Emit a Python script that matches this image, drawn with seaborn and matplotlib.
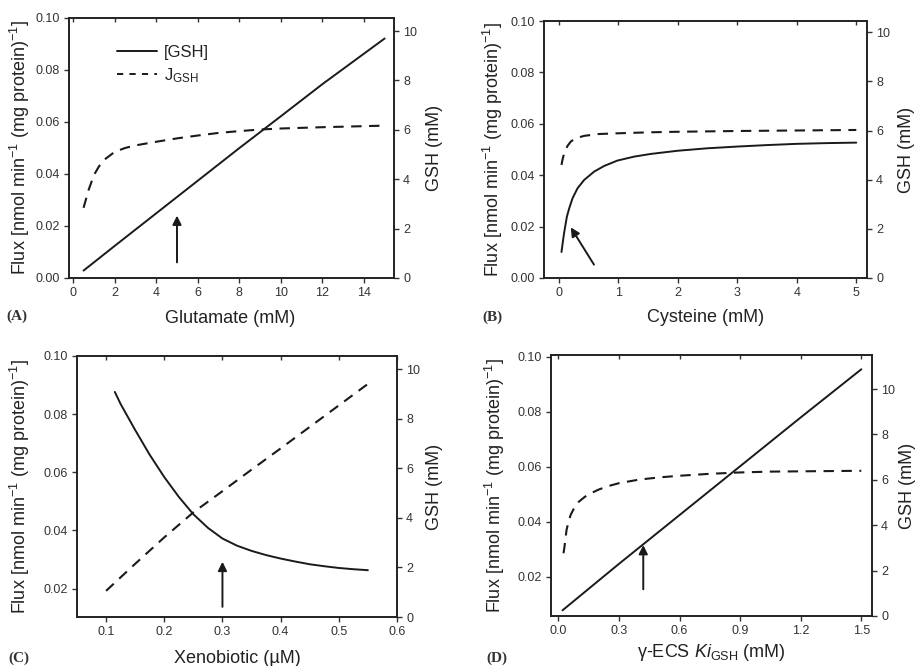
import matplotlib
matplotlib.use("Agg")
import matplotlib.pyplot as plt
from matplotlib.lines import Line2D
import seaborn as sns

sns.set_style("ticks")
plt.rcParams["font.family"] = ["Liberation Sans", "DejaVu Sans"]
plt.rcParams["mathtext.fontset"] = "custom"
plt.rcParams["mathtext.rm"] = "Liberation Sans"
plt.rcParams["mathtext.it"] = "Liberation Sans:italic"
plt.rcParams["mathtext.bf"] = "Liberation Sans:bold"

# ---- (A) glutamate ----
glu_gsh_x = [0.5, 2, 4, 6, 8, 10, 12, 15]
glu_gsh = [0.3, 1.3, 2.62, 3.94, 5.26, 6.55, 7.85, 9.7]
glu_flux_x = [0.5, 0.75, 1, 1.25, 1.5, 2, 2.5, 3, 4, 5, 6, 7, 8, 9, 10, 12, 15]
glu_flux = [0.027, 0.034, 0.0396, 0.043, 0.0455, 0.0485, 0.0500, 0.0510, 0.0524,
            0.0537, 0.0548, 0.0558, 0.0565, 0.0571, 0.0575, 0.0580, 0.0586]
glu_arrow = (5.0, 0.006, 5.0, 0.024)

# ---- (B) cysteine ----
cys_gsh_x = [0.044, 0.078, 0.10, 0.134, 0.173, 0.229, 0.313, 0.425, 0.593, 0.761,
             0.985, 1.265, 1.546, 2.0, 2.5, 3.0, 3.5, 4.0, 4.5, 5.0]
cys_gsh = [1.06, 1.67, 2.01, 2.49, 2.83, 3.24, 3.65, 3.99, 4.33, 4.56,
           4.78, 4.94, 5.05, 5.18, 5.28, 5.35, 5.41, 5.46, 5.49, 5.51]
cys_flux_x = [0.044, 0.061, 0.089, 0.145, 0.201, 0.285, 0.425, 0.649, 0.985, 1.546,
              2.0, 3.0, 4.0, 5.0]
cys_flux = [0.0440, 0.0460, 0.0486, 0.0514, 0.0531, 0.0544, 0.0553, 0.0560, 0.0563,
            0.0567, 0.0569, 0.0572, 0.0574, 0.0576]
cys_arrow = (0.59, 0.0052, 0.2, 0.0197)

# ---- (C) xenobiotic ----
xen_gsh_x = [0.115, 0.125, 0.15, 0.175, 0.2, 0.225, 0.25, 0.275, 0.3, 0.325, 0.35,
             0.375, 0.4, 0.425, 0.45, 0.475, 0.5, 0.525, 0.55]
xen_gsh = [9.09, 8.6, 7.55, 6.55, 5.65, 4.85, 4.15, 3.6, 3.17, 2.88, 2.67,
           2.5, 2.36, 2.24, 2.13, 2.05, 1.98, 1.93, 1.89]
xen_flux_x = [0.1, 0.15, 0.2, 0.25, 0.3, 0.35, 0.4, 0.45, 0.5, 0.55]
xen_flux = [0.0192, 0.0285, 0.0376, 0.0462, 0.0535, 0.0609, 0.0682, 0.0756, 0.083, 0.0904]
xen_arrow = (0.3, 0.0137, 0.3, 0.0292)

# ---- (D) gamma-ECS Ki ----
ki_gsh_x = [0.02, 0.3, 0.6, 0.9, 1.2, 1.5]
ki_gsh = [0.25, 2.3, 4.45, 6.6, 8.75, 10.87]
ki_flux_x = [0.025, 0.03, 0.04, 0.05, 0.06, 0.08, 0.1, 0.13, 0.16, 0.2, 0.25, 0.3,
             0.4, 0.5, 0.6, 0.75, 0.9, 1.05, 1.2, 1.35, 1.5]
ki_flux = [0.0285, 0.031, 0.037, 0.040, 0.0424, 0.0453, 0.0472, 0.049, 0.0503, 0.0517,
           0.0530, 0.054, 0.0553, 0.0561, 0.0567, 0.0574, 0.0579, 0.0582, 0.0583,
           0.0584, 0.0585]
ki_arrow = (0.42, 0.0154, 0.42, 0.0315)

flux_label = r"Flux [nmol min$^{-1}$ (mg protein)$^{-1}$]"
gsh_label = "GSH (mM)"

W, H = 917, 666
fig = plt.figure(figsize=(W / 100, H / 100), dpi=100)

LINE = "#1a1a1a"
DASH = (5.0, 3.6)


def panel(box, xs_gsh, ys_gsh, xs_flux, ys_flux, xlim, ylim_f, ylim_g,
          xticks, xfmt, fticks, gticks, xlabel, tag, arrow,
          xlab_xy, flux_lab_x, gsh_lab_x, tag_xy):
    l, t, r, b = box
    ax = fig.add_axes([l / W, (H - b) / H, (r - l) / W, (b - t) / H])
    ax2 = ax.twinx()

    sns.lineplot(x=xs_flux, y=ys_flux, ax=ax, color=LINE, lw=1.5)
    ax.lines[-1].set_dashes(DASH)
    sns.lineplot(x=xs_gsh, y=ys_gsh, ax=ax2, color=LINE, lw=1.4)

    ax.set_xlim(*xlim)
    ax.set_ylim(*ylim_f)
    ax2.set_ylim(*ylim_g)
    ax.set_xticks(xticks)
    ax.set_xticklabels([xfmt.format(v) for v in xticks])
    ax.set_yticks(fticks)
    ax.set_yticklabels(["{:.2f}".format(v) for v in fticks])
    ax2.set_yticks(gticks)
    ax2.set_yticklabels([str(v) for v in gticks])

    for s in ax.spines.values():
        s.set_visible(True)
        s.set_linewidth(1.2)
        s.set_color("#222222")
    for s in ax2.spines.values():
        s.set_linewidth(1.2)
        s.set_color("#222222")

    ax.tick_params(axis="both", direction="out", length=3.5, width=1,
                   labelsize=9, colors="#333333", pad=3)
    ax2.tick_params(axis="y", direction="out", length=3.5, width=1,
                    labelsize=9, colors="#333333", pad=3)

    top = ax.secondary_xaxis("top")
    top.set_xticks(xticks)
    top.tick_params(direction="in", length=3, width=1, labeltop=False,
                    colors="#333333")
    top.spines["top"].set_visible(False)

    ax.set_xlabel(xlabel, fontsize=13, color="#222222")
    ax.set_ylabel(flux_label, fontsize=13, color="#222222")
    ax2.set_ylabel(gsh_label, fontsize=13, color="#222222")
    ax.xaxis.set_label_coords(*xlab_xy)
    ax.xaxis.label.set_va("center")
    ax.yaxis.set_label_coords(flux_lab_x, 0.5)
    ax.yaxis.label.set_va("center")
    ax2.yaxis.set_label_coords(gsh_lab_x, 0.5)
    ax2.yaxis.label.set_va("center")

    x0, y0, x1, y1 = arrow
    ax.annotate("", xy=(x1, y1), xytext=(x0, y0),
                arrowprops=dict(arrowstyle="-|>", color=LINE, lw=1.4,
                                mutation_scale=13, shrinkA=0, shrinkB=0))

    fig.text(tag_xy[0] / W, 1 - tag_xy[1] / H, tag, family="Liberation Serif",
             fontsize=11, fontweight="bold", color="#333333",
             ha="left", va="center")
    return ax, ax2


axA, axA2 = panel((69, 18, 394, 278), glu_gsh_x, glu_gsh, glu_flux_x, glu_flux,
                  (-0.2, 15.45), (0.0, 0.10), (0, 10.53),
                  [0, 2, 4, 6, 8, 10, 12, 14], "{:d}",
                  [0.0, 0.02, 0.04, 0.06, 0.08, 0.10], [0, 2, 4, 6, 8, 10],
                  "Glutamate (mM)", "(A)", glu_arrow,
                  (0.497, -0.154), -0.151, 1.126, (6, 316))

axB, axB2 = panel((544, 21, 867, 278), cys_gsh_x, cys_gsh, cys_flux_x, cys_flux,
                  (-0.25, 5.18), (0.0, 0.10), (0, 10.46),
                  [0, 1, 2, 3, 4, 5], "{:d}",
                  [0.0, 0.02, 0.04, 0.06, 0.08, 0.10], [0, 2, 4, 6, 8, 10],
                  "Cysteine (mM)", "(B)", cys_arrow,
                  (0.5, -0.155), -0.158, 1.121, (482, 317))

axC, axC2 = panel((77, 356, 397, 617), xen_gsh_x, xen_gsh, xen_flux_x, xen_flux,
                  (0.05, 0.6), (0.0102, 0.10), (0, 10.54),
                  [0.1, 0.2, 0.3, 0.4, 0.5, 0.6], "{:.1f}",
                  [0.02, 0.04, 0.06, 0.08, 0.10], [0, 2, 4, 6, 8, 10],
                  "Xenobiotic (µM)", "(C)", xen_arrow,
                  (0.5, -0.158), -0.179, 1.118, (8, 658))

axD, axD2 = panel((551, 355, 872, 616), ki_gsh_x, ki_gsh, ki_flux_x, ki_flux,
                  (-0.037, 1.553), (0.0057, 0.1006), (0, 11.5),
                  [0.0, 0.3, 0.6, 0.9, 1.2, 1.5], "{:.1f}",
                  [0.02, 0.04, 0.06, 0.08, 0.10], [0, 2, 4, 6, 8, 10],
                  r"γ-ECS $\mathit{Ki}_{\mathrm{GSH}}$ (mM)", "(D)", ki_arrow,
                  (0.5, -0.14), -0.176, 1.112, (486, 658))

handles = [Line2D([], [], color=LINE, lw=1.4),
           Line2D([], [], color=LINE, lw=1.4, dashes=(3.2, 3.2))]
axA2.legend(handles, ["[GSH]", r"J$_{\mathrm{GSH}}$"], loc="upper left",
            bbox_to_anchor=((117 - 69) / 325, (278 - 45) / 260),
            frameon=False, fontsize=12, handlelength=2.4, handletextpad=0.4,
            labelspacing=0.35, borderpad=0, borderaxespad=0,
            labelcolor="#222222")

fig.savefig("out.png", dpi=100)
